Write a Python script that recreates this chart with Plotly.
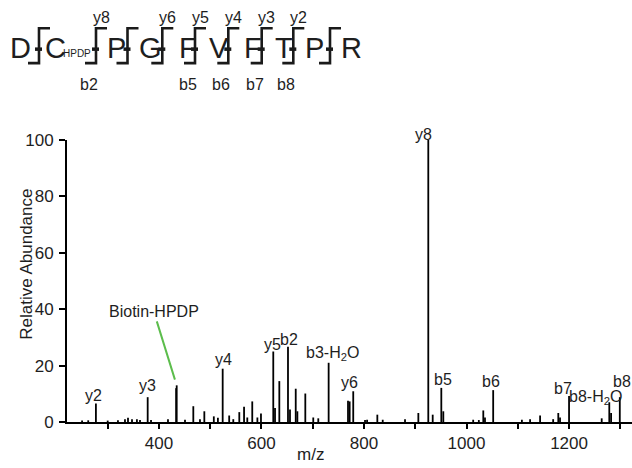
import plotly.graph_objects as go

# ---------------- data ----------------
# labelled fragment peaks
label_names = ["y2", "y3", "y4", "y5", "b2", "b3-H<sub>2</sub>O", "y6", "y8",
               "b5", "b6", "b7", "b8-H<sub>2</sub>O", "b8"]
label_mz = [277, 378, 524.3, 623, 651.7, 731, 779, 925.4,
            950.8, 1052, 1200, 1278.5, 1299]
label_int = [6.6, 8.8, 18.9, 25.0, 26.7, 21.0, 10.9, 100,
             12.1, 11.3, 9.2, 7.0, 8.8]
# label offsets (pixels) relative to peak top
label_dx = [-2, 0, 1, -1, 1, 4, -4, -5, 2, -2, -6, -14, 2]
label_dy = [8, 12, 9, 7, 7, 9, 9, 6, 8, 9, 8, 5, 16]

# biotin-HPDP reporter peak
biotin_mz = 434.6
biotin_int = 13.0

# other (unlabelled) peaks
other_mz = [250, 262, 300, 320, 333.7, 339.6, 347.4, 357, 363, 384.5, 417.6,
            433.5, 450.8, 467, 480, 488.5, 507, 515, 537, 545, 556.7, 566,
            572.3, 582, 592, 599, 626.4, 634.8, 655.6, 666.8, 670, 685.5,
            701, 710.8, 768.8, 772, 802, 806, 826, 836.5, 880, 906, 934,
            954.7, 1013, 1024, 1032.7, 1036, 1108, 1124, 1143.5, 1169, 1179,
            1182.4, 1263.7, 1282]
other_int = [0.5, 0.6, 0.5, 0.6, 1.0, 1.5, 1.0, 1.0, 0.7, 0.7, 1.0,
             12.0, 0.8, 5.6, 1.0, 3.8, 2.0, 1.5, 2.3, 1.0, 3.5, 5.4,
             1.6, 7.3, 1.6, 3.0, 5.0, 14.5, 4.4, 11.8, 3.8, 10.1,
             1.6, 1.3, 7.5, 7.3, 0.7, 0.8, 2.6, 0.8, 1.0, 3.2, 2.6,
             3.8, 0.8, 0.7, 4.1, 1.6, 0.8, 1.0, 2.3, 1.0, 3.2,
             1.6, 1.3, 3.2]

# peptide sequence diagram
seq_letters = ["D", "C", "P", "G", "F", "V", "F", "T", "P", "R"]
y_ion_labels = ["", "y8", "", "y6", "y5", "y4", "y3", "y2", ""]
b_ion_labels = ["", "b2", "", "", "b5", "b6", "b7", "b8", ""]

x_ticks = [400, 600, 800, 1000, 1200]
x_minor_ticks = [300, 500, 700, 900, 1100, 1300]
y_ticks = [0, 20, 40, 60, 80, 100]

# ---------------- layout helpers ----------------
W, H = 632, 468
L, R, T, B = 67, 0, 140, 45.5
PW, PH = W - L - R, H - T - B


def px(x):
    return (x - L) / PW


def py(y):
    return (H - B - y) / PH


FONT = "Liberation Sans, Arial, sans-serif"
NARROW = "Liberation Sans Narrow, Liberation Sans, Arial, sans-serif"
TXT = "#1e1e1e"

all_mz = label_mz + [biotin_mz] + other_mz
all_int = label_int + [biotin_int] + other_int
xs, ys = [], []
for m, v in zip(all_mz, all_int):
    xs += [m, m, None]
    ys += [0, v, None]

fig = go.Figure()
fig.add_trace(go.Scatter(x=xs, y=ys, mode="lines",
                         line=dict(color="black", width=1.8),
                         hoverinfo="skip", showlegend=False))

annotations = []
for n, m, v, dx, dy in zip(label_names, label_mz, label_int, label_dx, label_dy):
    annotations.append(dict(x=m, y=v, xref="x", yref="y", text=n, showarrow=False,
                            xanchor="center", yanchor="middle", xshift=dx, yshift=dy,
                            font=dict(family=FONT, size=16, color=TXT)))

annotations.append(dict(x=biotin_mz, y=biotin_int, xref="x", yref="y",
                        text="Biotin-HPDP", showarrow=True, arrowhead=0,
                        arrowcolor="#5cbd4c", arrowwidth=2, standoff=6,
                        axref="pixel", ayref="pixel", ax=-23, ay=-74,
                        font=dict(family=FONT, size=16, color=TXT)))

# axis titles
annotations.append(dict(x=px(27), y=py(265), xref="paper", yref="paper",
                        text="Relative Abundance", textangle=-90, showarrow=False,
                        xanchor="center", yanchor="middle",
                        font=dict(family=FONT, size=17, color=TXT)))
annotations.append(dict(x=px(310), y=py(455), xref="paper", yref="paper",
                        text="m/z", showarrow=False, xanchor="center", yanchor="middle",
                        font=dict(family=FONT, size=17, color=TXT)))

# sequence diagram
letter_x = [20, 55, 116, 150.5, 187.5, 219, 252.5, 283.5, 314, 351]
bracket_x = [39, 96, 127.5, 162.3, 195, 228.3, 261.7, 293.3, 330]
for s, lx in zip(seq_letters, letter_x):
    annotations.append(dict(x=px(lx), y=py(48), xref="paper", yref="paper", text=s,
                            showarrow=False, xanchor="center", yanchor="middle",
                            font=dict(family=NARROW, size=29, color=TXT)))
annotations.append(dict(x=px(77), y=py(53), xref="paper", yref="paper", text="HPDP",
                        showarrow=False, xanchor="center", yanchor="middle",
                        font=dict(family=NARROW, size=10, color=TXT)))
shapes = []
for i, bx in enumerate(bracket_x):
    path = f"M {px(bx + 11)} {py(28)} L {px(bx)} {py(28)} L {px(bx)} {py(63)} L {px(bx - 11)} {py(63)}"
    shapes.append(dict(type="path", path=path, xref="paper", yref="paper",
                       line=dict(color="#1a1a1a", width=2.6)))
    shapes.append(dict(type="line", x0=px(bx - 4), x1=px(bx + 3), y0=py(49), y1=py(49),
                       xref="paper", yref="paper", line=dict(color="#1a1a1a", width=3.5)))
    if y_ion_labels[i]:
        annotations.append(dict(x=px(bx + 5), y=py(17), xref="paper", yref="paper",
                                text=y_ion_labels[i], showarrow=False,
                                xanchor="center", yanchor="middle",
                                font=dict(family=NARROW, size=16, color=TXT)))
    if b_ion_labels[i]:
        annotations.append(dict(x=px(bx - 7), y=py(84), xref="paper", yref="paper",
                                text=b_ion_labels[i], showarrow=False,
                                xanchor="center", yanchor="middle",
                                font=dict(family=NARROW, size=16, color=TXT)))

fig.update_layout(
    width=W, height=H,
    margin=dict(l=L, r=R, t=T, b=B, pad=0),
    paper_bgcolor="white", plot_bgcolor="white",
    annotations=annotations, shapes=shapes,
    xaxis=dict(range=[220.6, 1322.8], tickvals=x_ticks,
               ticks="outside", ticklen=5, tickwidth=2, tickcolor="black",
               minor=dict(tickvals=x_minor_ticks, ticks="outside", ticklen=5,
                          tickwidth=2, tickcolor="black", showgrid=False),
               showline=True, linewidth=2, linecolor="black", showgrid=False,
               zeroline=False, tickfont=dict(family=FONT, size=17, color=TXT)),
    yaxis=dict(range=[0, 100], tickvals=y_ticks,
               ticks="outside", ticklen=6, tickwidth=2, tickcolor="black",
               ticklabelstandoff=2,
               showline=True, linewidth=2, linecolor="black", showgrid=False,
               zeroline=False, tickfont=dict(family=FONT, size=17, color=TXT)),
)

fig.write_html("out.html")
